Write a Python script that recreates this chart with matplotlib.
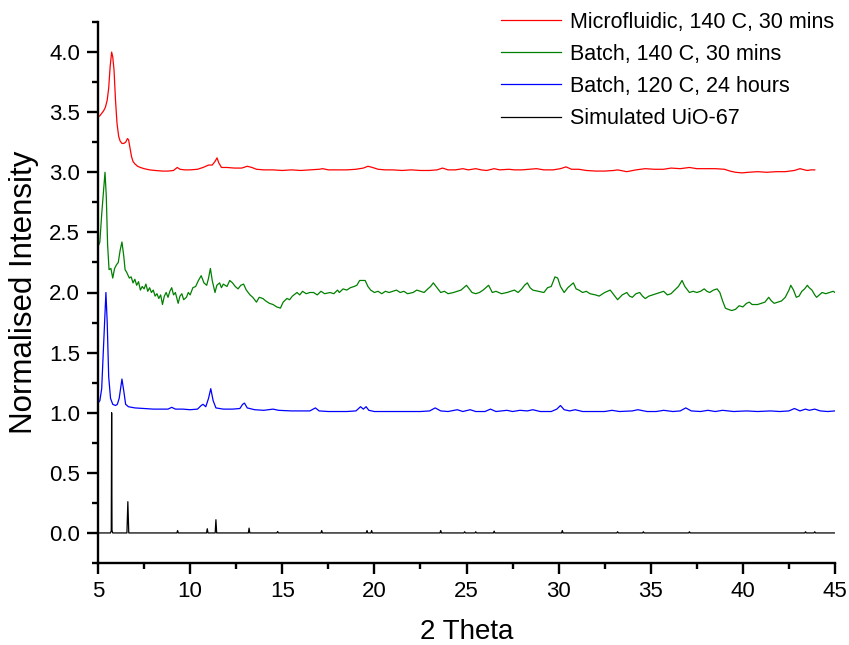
import matplotlib
matplotlib.use("Agg")
import matplotlib.pyplot as plt
from matplotlib.ticker import MultipleLocator

plt.rcParams['font.family'] = ['Liberation Sans', 'DejaVu Sans']

labels = ["Microfluidic, 140 C, 30 mins", "Batch, 140 C, 30 mins",
          "Batch, 120 C, 24 hours", "Simulated UiO-67"]
colors = ["#ff0000", "#008000", "#0000ff", "#000000"]

micro_x = [5.0, 5.1, 5.2, 5.3, 5.4, 5.5, 5.58, 5.66, 5.74, 5.8, 5.87, 5.95, 6.03, 6.12, 6.2, 6.3,
           6.4, 6.5, 6.6, 6.66, 6.74, 6.82, 6.9, 7.0, 7.15, 7.3, 7.5, 7.8, 8.1, 8.5, 8.8, 9.1,
           9.3, 9.45, 9.7, 10.0, 10.4, 10.7, 11.0, 11.2, 11.35, 11.46, 11.55, 11.7, 12.0, 12.4,
           12.8, 13.1, 13.35, 13.6, 14.0, 14.5, 15.0, 15.5, 16.0, 16.5, 17.0, 17.2, 17.5, 18.0,
           18.5, 19.0, 19.4, 19.65, 19.9, 20.2, 20.6, 21.0, 21.5, 22.0, 22.5, 23.0, 23.4, 23.7,
           24.0, 24.4, 24.8, 25.1, 25.5, 25.8, 26.1, 26.5, 26.8, 27.3, 27.6, 28.0, 28.4, 28.8,
           29.2, 29.7, 30.1, 30.4, 30.7, 31.1, 31.5, 32.0, 32.5, 33.0, 33.2, 33.7, 34.2, 34.7,
           35.2, 35.7, 36.1, 36.6, 37.1, 37.5, 38.0, 38.5, 39.0, 39.3, 39.6, 39.95, 40.3, 40.8,
           41.3, 41.8, 42.3, 42.8, 43.1, 43.35, 43.5, 43.7, 43.9]
micro_y = [3.46, 3.47, 3.49, 3.51, 3.54, 3.6, 3.7, 3.88, 4.0, 3.96, 3.85, 3.6, 3.41, 3.3, 3.26, 3.24,
           3.24, 3.25, 3.28, 3.27, 3.2, 3.13, 3.09, 3.07, 3.05, 3.04, 3.03, 3.02, 3.015, 3.01, 3.01, 3.015,
           3.04, 3.025, 3.02, 3.02, 3.025, 3.04, 3.06, 3.06, 3.09, 3.12, 3.08, 3.04, 3.04, 3.035,
           3.035, 3.05, 3.04, 3.025, 3.02, 3.02, 3.015, 3.02, 3.015, 3.02, 3.025, 3.03, 3.02, 3.02,
           3.02, 3.025, 3.035, 3.05, 3.04, 3.025, 3.02, 3.02, 3.015, 3.02, 3.015, 3.015, 3.02, 3.035,
           3.02, 3.02, 3.03, 3.02, 3.03, 3.02, 3.015, 3.03, 3.02, 3.025, 3.02, 3.02, 3.025, 3.03,
           3.02, 3.02, 3.03, 3.045, 3.025, 3.025, 3.015, 3.01, 3.01, 3.015, 3.02, 3.005, 3.02, 3.03,
           3.025, 3.025, 3.035, 3.03, 3.04, 3.03, 3.03, 3.03, 3.025, 3.01, 3.0, 2.995, 3.0, 3.005,
           3.0, 3.005, 3.005, 3.015, 3.03, 3.02, 3.015, 3.02, 3.02]

batch140_x = [5.0, 5.1, 5.2, 5.3, 5.38, 5.45, 5.52, 5.6, 5.7, 5.8, 5.9, 6.0, 6.1, 6.2, 6.3, 6.4,
              6.47, 6.55, 6.7, 6.8, 6.9, 7.0, 7.1, 7.2, 7.3, 7.4, 7.5, 7.6, 7.7, 7.8, 7.9, 8.0,
              8.1, 8.2, 8.3, 8.4, 8.5, 8.6, 8.7, 8.8, 8.9, 9.0, 9.1, 9.2, 9.35, 9.45, 9.55, 9.65,
              9.8, 9.9, 10.0, 10.15, 10.3, 10.45, 10.6, 10.75, 10.9, 11.0, 11.1, 11.2, 11.35, 11.45,
              11.6, 11.7, 11.8, 12.0, 12.15, 12.3, 12.45, 12.6, 12.75, 12.9, 13.05, 13.25, 13.4, 13.6,
              13.75, 13.95, 14.1, 14.3, 14.5, 14.7, 14.9, 15.05, 15.25, 15.4, 15.55, 15.8, 15.95, 16.1,
              16.3, 16.5, 16.7, 16.9, 17.1, 17.3, 17.6, 17.8, 18.0, 18.1, 18.3, 18.5, 18.7, 18.9,
              19.05, 19.2, 19.5, 19.65, 19.8, 20.0, 20.2, 20.4, 20.6, 20.8, 21.0, 21.2, 21.4, 21.6,
              21.8, 22.1, 22.3, 22.5, 22.7, 22.9, 23.05, 23.2, 23.35, 23.6, 23.8, 24.0, 24.3, 24.5,
              24.7, 24.85, 25.0, 25.15, 25.3, 25.5, 25.7, 25.9, 26.05, 26.2, 26.4, 26.6, 26.9, 27.2,
              27.4, 27.6, 27.8, 28.0, 28.15, 28.3, 28.45, 28.6, 28.9, 29.2, 29.4, 29.6, 29.8, 29.95,
              30.1, 30.3, 30.5, 30.8, 30.95, 31.1, 31.3, 31.5, 31.7, 32.0, 32.2, 32.5, 32.8, 33.0,
              33.2, 33.45, 33.7, 33.85, 34.0, 34.2, 34.4, 34.55, 34.7, 34.9, 35.1, 35.3, 35.5, 35.7,
              35.9, 36.1, 36.3, 36.5, 36.7, 36.85, 37.1, 37.3, 37.5, 37.7, 37.9, 38.05, 38.2, 38.4,
              38.6, 38.75, 38.9, 39.05, 39.2, 39.4, 39.6, 39.8, 40.0, 40.2, 40.35, 40.5, 40.8, 41.0,
              41.2, 41.4, 41.55, 41.7, 41.9, 42.1, 42.3, 42.5, 42.6, 42.75, 42.9, 43.05, 43.2, 43.35,
              43.5, 43.6, 43.75, 43.9, 44.0, 44.15, 44.3, 44.5, 44.7, 44.9, 45.0]
batch140_y = [2.38, 2.42, 2.65, 2.85, 3.0, 2.8, 2.4, 2.19, 2.2, 2.12, 2.2, 2.23, 2.25, 2.35, 2.42, 2.3,
              2.19, 2.17, 2.12, 2.13, 2.08, 2.11, 2.06, 2.09, 2.02, 2.05, 2.03, 2.07, 2.01, 2.04, 2.0, 2.02,
              1.97, 1.99, 1.95, 1.98, 1.9, 1.97, 2.0, 1.96, 2.01, 2.04, 1.98, 2.0, 1.91, 1.97, 1.99, 1.94,
              1.96, 2.0, 1.98, 2.04, 2.05, 2.1, 2.14, 2.08, 2.06, 2.12, 2.2, 2.1, 2.0, 2.06,
              2.08, 2.04, 2.07, 2.05, 2.1, 2.08, 2.05, 2.03, 2.06, 2.07, 2.02, 1.98, 1.96, 1.92,
              1.96, 1.95, 1.93, 1.91, 1.9, 1.88, 1.87, 1.92, 1.95, 1.94, 1.97, 2.0, 1.98, 2.01,
              1.99, 2.0, 2.0, 1.98, 2.01, 1.99, 2.0, 1.99, 2.02, 2.0, 2.03, 2.02, 2.04, 2.05,
              2.06, 2.1, 2.1, 2.05, 2.02, 2.0, 2.01, 1.99, 2.01, 2.0, 2.01, 2.02, 2.0, 2.01,
              1.99, 2.0, 2.02, 2.01, 2.0, 2.03, 2.05, 2.08, 2.05, 2.0, 2.01, 1.99, 2.0, 2.01,
              2.02, 2.04, 2.06, 2.03, 2.0, 1.99, 2.0, 2.02, 2.04, 2.06, 2.0, 2.01, 1.99, 2.0,
              2.01, 2.02, 2.0, 2.03, 2.06, 2.08, 2.04, 2.02, 2.01, 2.0, 2.04, 2.05, 2.13, 2.12,
              2.05, 2.0, 2.04, 2.08, 2.03, 2.02, 2.0, 2.01, 1.99, 1.98, 1.97, 2.0, 2.02, 1.98,
              1.94, 1.98, 2.0, 1.97, 1.96, 1.99, 2.0, 1.97, 1.95, 1.97, 1.98, 1.99, 2.0, 2.01,
              1.98, 1.99, 2.02, 2.05, 2.1, 2.05, 2.0, 2.01, 2.0, 2.01, 2.03, 2.01, 2.0, 2.02,
              2.03, 2.0, 1.93, 1.87, 1.86, 1.85, 1.86, 1.89, 1.88, 1.91, 1.92, 1.9, 1.9, 1.91,
              1.92, 1.96, 1.93, 1.91, 1.92, 1.93, 1.96, 2.02, 2.06, 2.02, 1.96, 1.97, 2.01, 2.03,
              2.06, 2.04, 2.02, 1.98, 1.96, 1.98, 2.0, 1.99, 2.0, 2.01, 2.0]

batch120_x = [5.0, 5.1, 5.2, 5.3, 5.43, 5.5, 5.58, 5.68, 5.8, 5.95, 6.05, 6.15, 6.3, 6.4, 6.5, 6.65,
              7.0, 7.5, 8.0, 8.5, 8.8, 9.0, 9.2, 9.6, 10.0, 10.4, 10.6, 10.7, 10.85, 11.0, 11.12,
              11.25, 11.4, 11.8, 12.3, 12.7, 12.85, 12.95, 13.1, 13.5, 14.0, 14.5, 14.8, 15.5, 16.0,
              16.5, 16.8, 17.0, 17.5, 18.0, 18.5, 19.0, 19.25, 19.4, 19.55, 19.7, 20.0, 20.5, 21.5,
              22.5, 23.0, 23.3, 23.6, 24.0, 24.5, 24.8, 25.2, 25.5, 26.0, 26.3, 26.6, 27.2, 27.5,
              27.9, 28.3, 28.6, 29.0, 29.6, 29.9, 30.1, 30.3, 30.6, 30.9, 31.3, 32.0, 32.5, 32.9,
              33.3, 34.0, 34.3, 34.8, 35.3, 35.7, 36.2, 36.6, 36.9, 37.2, 37.7, 38.1, 38.5, 38.9,
              39.5, 40.2, 40.8, 41.5, 42.0, 42.5, 42.8, 43.1, 43.4, 43.6, 43.9, 44.2, 44.6, 45.0]
batch120_y = [1.08, 1.1, 1.2, 1.55, 2.0, 1.75, 1.3, 1.12, 1.07, 1.06, 1.07, 1.12, 1.28, 1.18, 1.07, 1.05,
              1.04, 1.035, 1.03, 1.03, 1.03, 1.045, 1.03, 1.03, 1.025, 1.03, 1.06, 1.07, 1.05, 1.12, 1.2,
              1.1, 1.04, 1.03, 1.03, 1.035, 1.07, 1.08, 1.04, 1.025, 1.02, 1.03, 1.02, 1.015, 1.015,
              1.015, 1.04, 1.015, 1.01, 1.01, 1.01, 1.015, 1.05, 1.03, 1.05, 1.02, 1.01, 1.01, 1.01,
              1.01, 1.015, 1.04, 1.015, 1.01, 1.025, 1.01, 1.025, 1.01, 1.01, 1.03, 1.01, 1.02, 1.01,
              1.02, 1.015, 1.025, 1.01, 1.01, 1.03, 1.06, 1.025, 1.015, 1.025, 1.01, 1.01, 1.01, 1.02,
              1.01, 1.015, 1.025, 1.01, 1.01, 1.02, 1.01, 1.015, 1.04, 1.015, 1.01, 1.02, 1.01, 1.02,
              1.01, 1.015, 1.01, 1.015, 1.01, 1.015, 1.035, 1.015, 1.03, 1.02, 1.03, 1.015, 1.01, 1.015]

sim_x = [5.0, 5.68, 5.72, 5.74, 5.76, 5.8, 6.57, 6.62, 6.67, 9.28, 9.32, 9.36, 10.89, 10.93, 10.97,
         11.36, 11.4, 11.44, 13.16, 13.2, 13.24, 14.71, 14.75, 14.79, 17.1, 17.14, 17.18,
         19.56, 19.6, 19.64, 19.81, 19.85, 19.89, 23.56, 23.6, 23.64, 24.86, 24.9, 24.94,
         25.46, 25.5, 25.54, 26.46, 26.5, 26.54, 30.16, 30.2, 30.24, 33.16, 33.2, 33.24,
         34.56, 34.6, 34.64, 37.06, 37.1, 37.14, 43.36, 43.4, 43.44, 43.86, 43.9, 43.94, 45.0]
sim_y = [0.0, 0.0, 0.02, 1.0, 0.02, 0.0, 0.0, 0.26, 0.0, 0.0, 0.02, 0.0, 0.0, 0.035, 0.0,
         0.0, 0.11, 0.0, 0.0, 0.04, 0.0, 0.0, 0.012, 0.0, 0.0, 0.02, 0.0,
         0.0, 0.02, 0.0, 0.0, 0.02, 0.0, 0.0, 0.02, 0.0, 0.0, 0.01, 0.0,
         0.0, 0.01, 0.0, 0.0, 0.015, 0.0, 0.0, 0.02, 0.0, 0.0, 0.01, 0.0,
         0.0, 0.01, 0.0, 0.0, 0.01, 0.0, 0.0, 0.01, 0.0, 0.0, 0.01, 0.0, 0.0]

series_x = [micro_x, batch140_x, batch120_x, sim_x]
series_y = [micro_y, batch140_y, batch120_y, sim_y]

x_ticks = [5, 10, 15, 20, 25, 30, 35, 40, 45]
y_ticks = [0.0, 0.5, 1.0, 1.5, 2.0, 2.5, 3.0, 3.5, 4.0]

fig = plt.figure(figsize=(8.49, 6.45), dpi=100)
ax = fig.add_axes([98 / 849, 1 - 563 / 645, 737 / 849, 541 / 645])

for xs, ys, c, lab in zip(series_x, series_y, colors, labels):
    ax.plot(xs, ys, color=c, lw=0.9, label=lab)

ax.set_xlim(5, 45)
ax.set_ylim(-0.25, 4.25)
ax.set_xticks(x_ticks)
ax.set_yticks(y_ticks)
ax.set_xticklabels([str(t) for t in x_ticks])
ax.set_yticklabels([f"{t:.1f}" for t in y_ticks])
ax.xaxis.set_minor_locator(MultipleLocator(2.5))
ax.yaxis.set_minor_locator(MultipleLocator(0.25))

for s in ['top', 'right']:
    ax.spines[s].set_visible(False)
for s in ['left', 'bottom']:
    ax.spines[s].set_linewidth(1.7)

ax.tick_params(which='major', direction='out', length=8, width=1.7, labelsize=16, pad=5)
ax.tick_params(which='minor', direction='out', length=4, width=1.7)

ax.set_xlabel("2 Theta", fontsize=20, labelpad=12)
ax.set_ylabel("Normalised Intensity", fontsize=22.5, labelpad=7)

ax.legend(loc='upper right', bbox_to_anchor=(842 / 849, 1 - 4 / 645), bbox_transform=fig.transFigure,
          frameon=False, fontsize=15.5, handlelength=2.75, handletextpad=0.45, labelspacing=0.52,
          borderaxespad=0.1, borderpad=0.25)

fig.savefig("out.png", dpi=100)
